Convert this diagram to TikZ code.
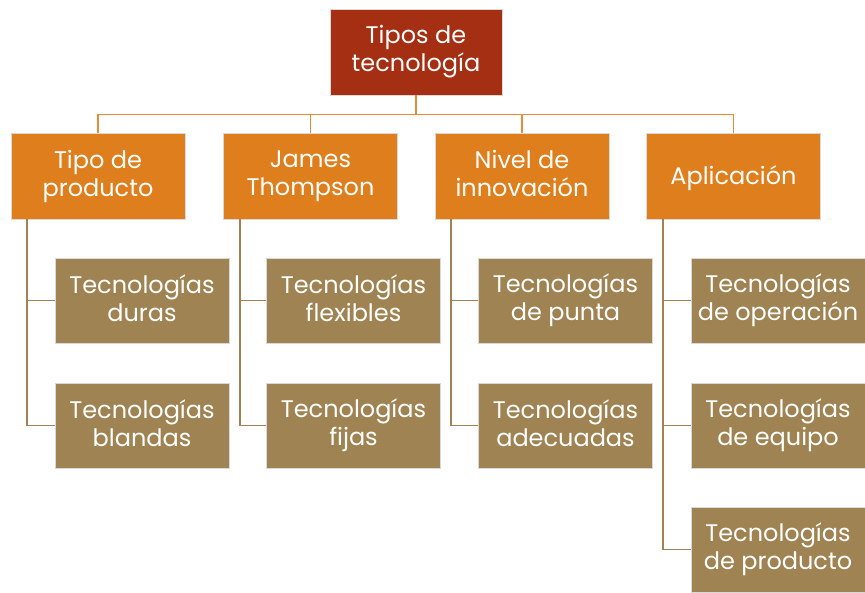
\documentclass[tikz,border=0pt]{standalone}
\usepackage{fontspec}
\setmainfont{Poppins}
\definecolor{rootc}{HTML}{A52F12}
\definecolor{lvlc}{HTML}{DF7E1C}
\definecolor{leafc}{HTML}{A08352}
\definecolor{busc}{HTML}{E38D3A}
\begin{document}
\begin{tikzpicture}[x=1pt,y=-1pt,
  box/.style={draw=white!85!black, line width=0.6pt, text=white, align=center,
    inner sep=0pt, font=\fontsize{24}{28}\selectfont,
    execute at begin node={\rule{0pt}{24pt}},
    execute at end node={\rule[-4.4pt]{0pt}{4.4pt}}},
  rootbox/.style={box, fill=rootc, minimum width=172pt, minimum height=86pt},
  lvlbox/.style={box, fill=lvlc, minimum width=174pt, minimum height=86pt},
  leafbox/.style={box, fill=leafc, minimum width=174pt, minimum height=85pt},
  busline/.style={draw=busc, line width=1.6pt},
  leafline/.style={draw=leafc, line width=1.6pt}]
\useasboundingbox (0,0) rectangle (865,592);
\node[rootbox] (root) at (416,52) {Tipos de\\tecnología};
\node[lvlbox] (a) at (98,176) {Tipo de\\producto};
\node[lvlbox] (b) at (310.5,176) {James\\Thompson};
\node[lvlbox] (c) at (522,176) {Nivel de\\innovación};
\node[lvlbox] (d) at (733.5,176) {Aplicación};
\node[leafbox] (a1) at (142,300.5) {Tecnologías\\duras};
\node[leafbox] (a2) at (142,425.5) {Tecnologías\\blandas};
\node[leafbox] (b1) at (353.5,300.5) {Tecnologías\\flexibles};
\node[leafbox] (b2) at (353.5,425.5) {Tecnologías\\fijas};
\node[leafbox] (c1) at (565.5,300.5) {Tecnologías\\de punta};
\node[leafbox] (c2) at (565.5,425.5) {Tecnologías\\adecuadas};
\node[leafbox] (d1) at (778,300.5) {Tecnologías\\de operación};
\node[leafbox] (d2) at (778,425.5) {Tecnologías\\de equipo};
\node[leafbox] (d3) at (778,549.5) {Tecnologías\\de producto};
\foreach \t in {a,b,c,d}
  \draw[busline] (root.south) -- ++(0,19) -| (\t.north);
\foreach \p/\k in {a/a1,a/a2,b/b1,b/b2,c/c1,c/c2,d/d1,d/d2,d/d3}
  \draw[leafline] ([xshift=16.5pt]\p.south west) |- (\k.west);
\end{tikzpicture}
\end{document}
